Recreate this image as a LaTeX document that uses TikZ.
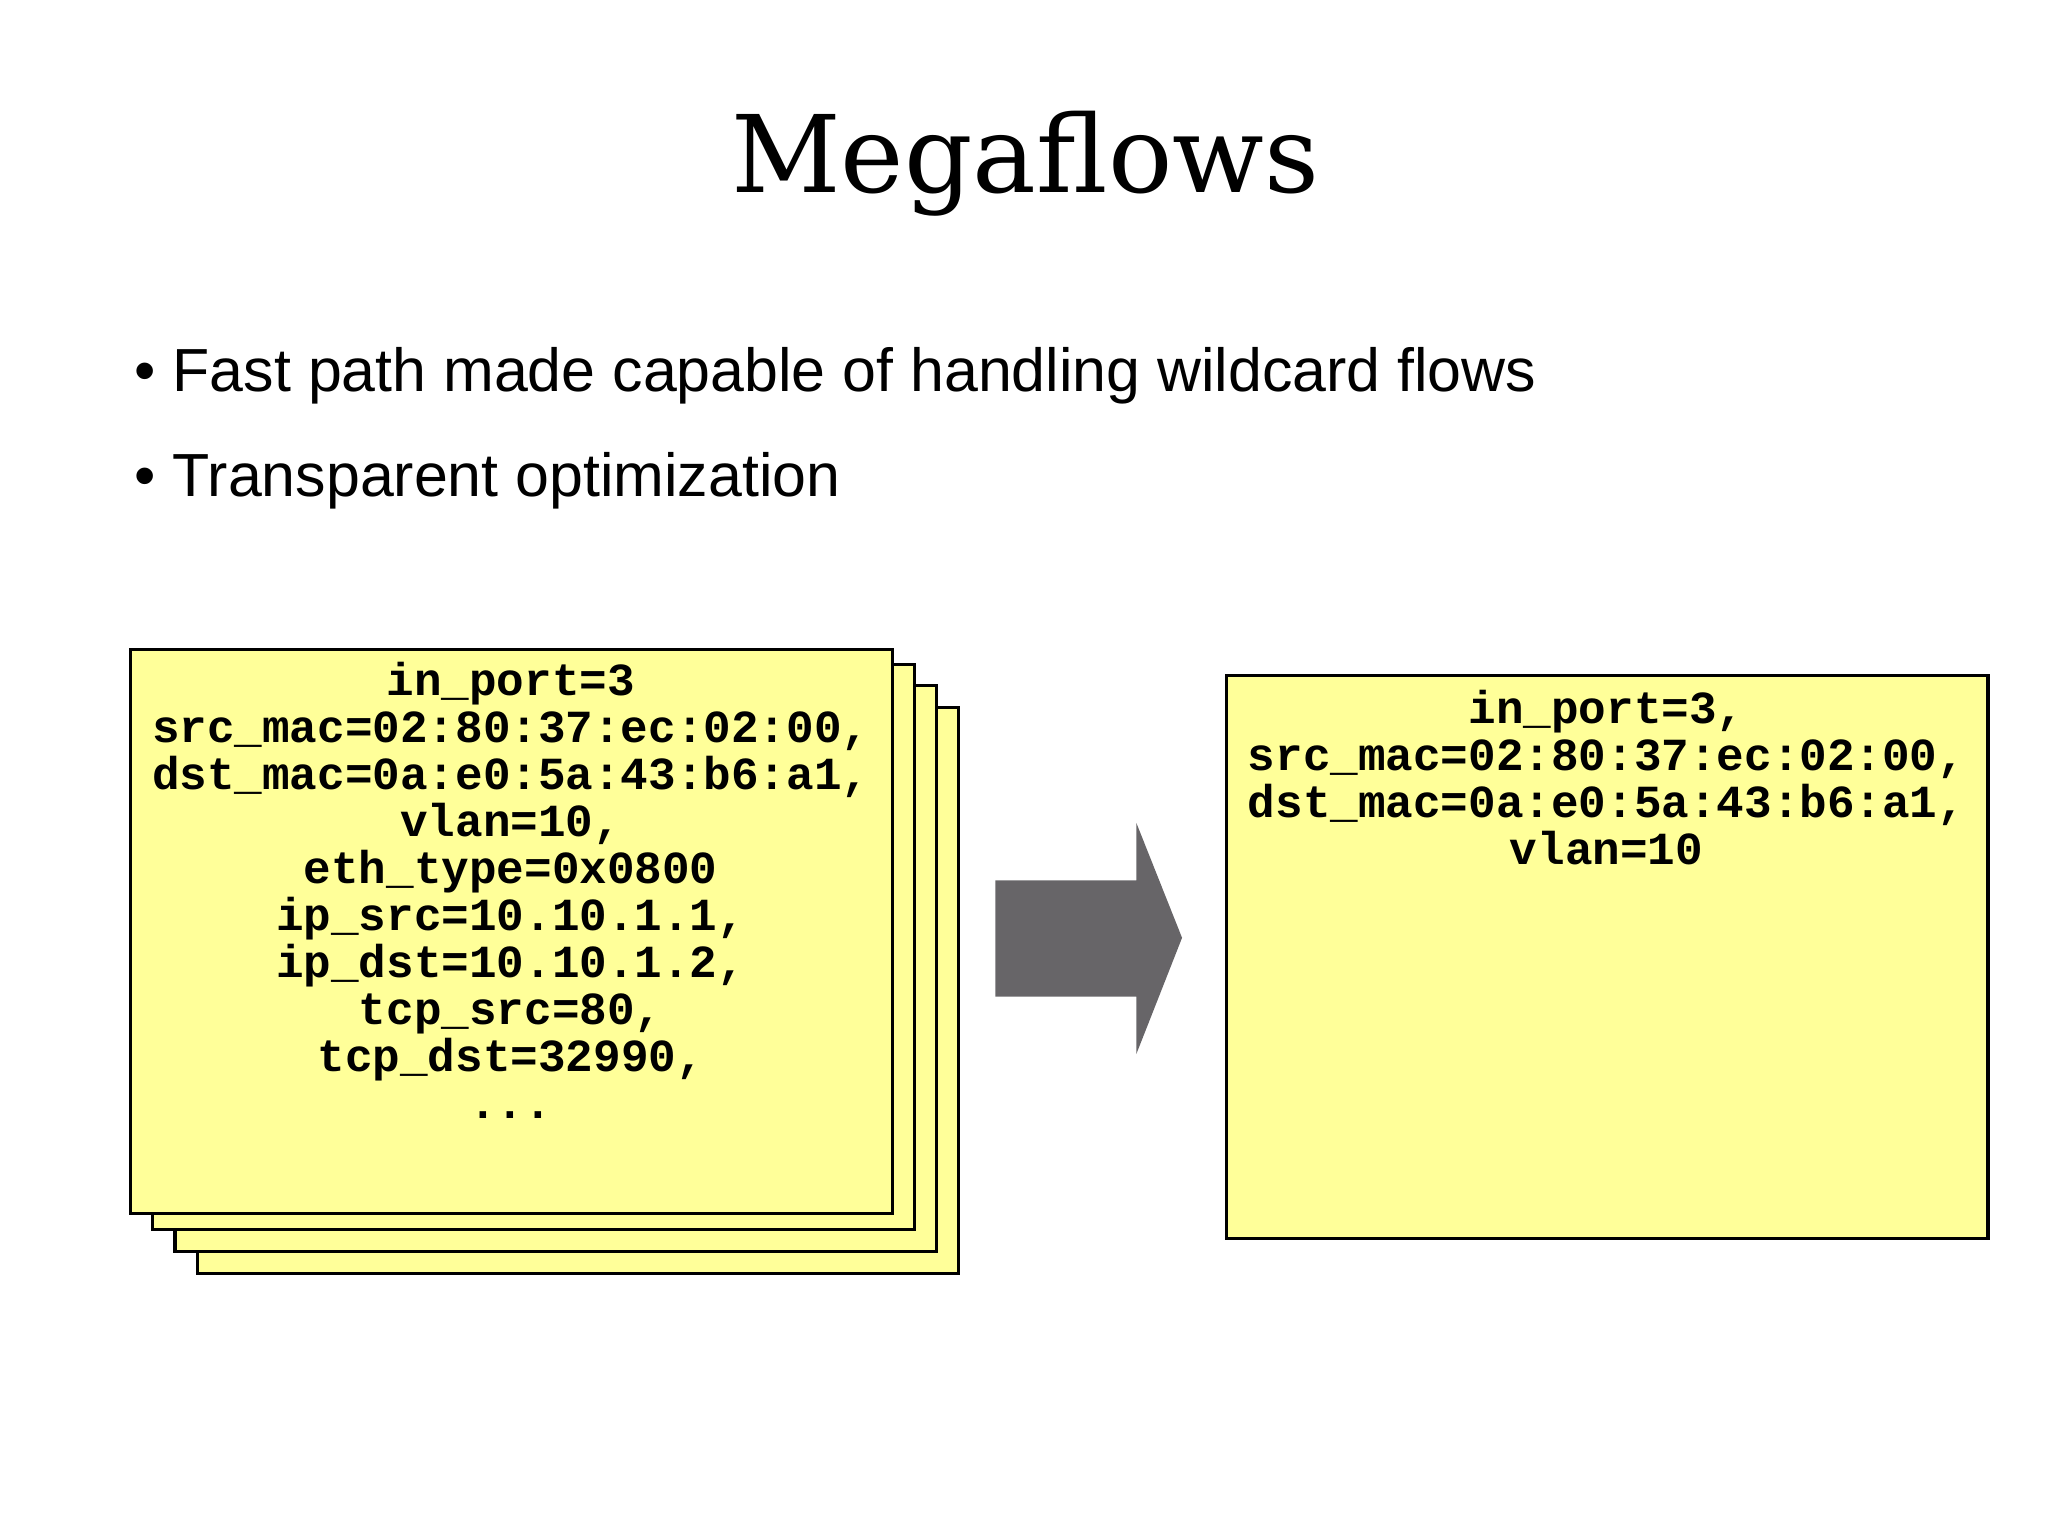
\documentclass[tikz,border=0pt]{standalone}
\usepackage{fontspec}
\setmainfont{Liberation Sans}
\newfontfamily\titlefont{DejaVu Serif}
\newfontfamily\monofont{Liberation Mono}[BoldFont={Liberation Mono Bold}]
\definecolor{cardy}{HTML}{FFFF99}
\definecolor{arrowg}{HTML}{676568}
\begin{document}
\begin{tikzpicture}[x=0.5pt,y=-0.5pt,
  card/.style={draw=black,line width=1.2pt,fill=cardy},
  code/.style={font=\monofont\bfseries\fontsize{17.6}{18}\selectfont,align=center,anchor=north}]
\useasboundingbox (0,0) rectangle (1568,1177);
\node[font=\titlefont\fontsize{41}{45}\selectfont] (title) at (785,125) {Megaflows};
\node[anchor=west,font=\fontsize{23.3}{26}\selectfont] (b1) at (96,288) {\textbullet\ Fast path made capable of handling wildcard flows};
\node[anchor=west,font=\fontsize{23.3}{26}\selectfont] (b2) at (96,368) {\textbullet\ Transparent optimization};
\draw[card] (151,542) rectangle (734,975);
\draw[card] (134,525) rectangle (717,958);
\draw[card] (117,509) rectangle (700,941);
\draw[card] (100,497) rectangle (683,929);
\node[code] (left) at (391,500) {in\_port=3\\src\_mac=02:80:37:ec:02:00,\\dst\_mac=0a:e0:5a:43:b6:a1,\\vlan=10,\\eth\_type=0x0800\\ip\_src=10.10.1.1,\\ip\_dst=10.10.1.2,\\tcp\_src=80,\\tcp\_dst=32990,\\...};
\fill[arrowg] (762,674) -- (870,674) -- (870,630) -- (905,718) -- (870,807) -- (870,763) -- (762,763) -- cycle;
\draw[card] (939,517) rectangle (1522,948);
\node[code] (right) at (1230,521) {in\_port=3,\\src\_mac=02:80:37:ec:02:00,\\dst\_mac=0a:e0:5a:43:b6:a1,\\vlan=10};
\end{tikzpicture}
\end{document}
